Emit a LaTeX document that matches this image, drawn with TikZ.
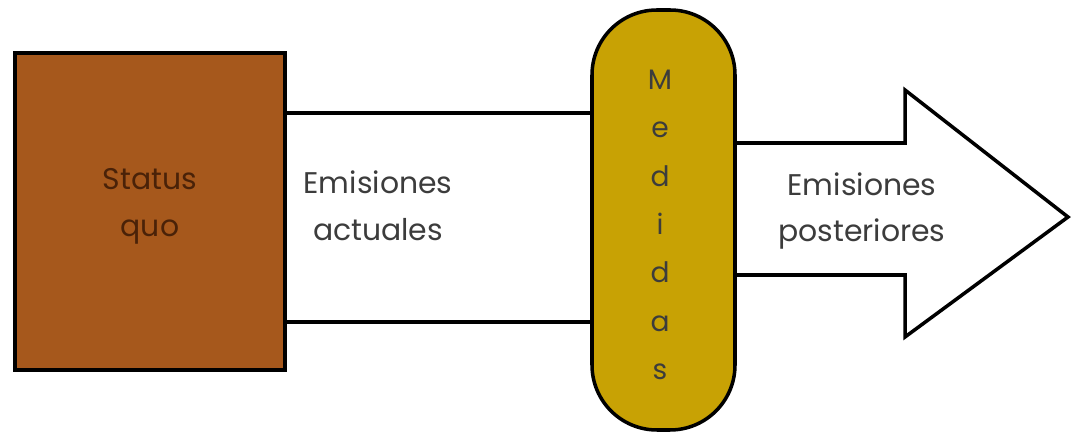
\documentclass[tikz,border=0pt]{standalone}
\usepackage{fontspec}
\setmainfont{Poppins}
\definecolor{quobrown}{HTML}{A6581C}
\definecolor{quotext}{HTML}{4A2208}
\definecolor{medgold}{HTML}{C8A204}
\definecolor{textgray}{HTML}{3C3C3C}

\begin{document}
\begin{tikzpicture}[line width=2pt,
  label/.style={align=center,text=textgray,font=\fontsize{17}{26.7}\selectfont}]
\useasboundingbox (0,0) rectangle (21.44,8.66);
\coordinate (S) at (3.0,4.43);
\coordinate (M) at (13.27,4.26);
\coordinate (U) at (0,6.40);
\coordinate (L) at (0,2.22);
\coordinate (T) at (0,5.80);
\coordinate (B) at (0,3.16);
\coordinate (H) at (18.1,6.86);
\coordinate (K) at (18.1,1.92);
\coordinate (X) at (21.36,4.32);

% arrow shaft starts under the pill
\draw[fill=white] (13.3,5.80) -- (H |- T) -- (H) -- (X) -- (K) -- (K |- B) -- (13.3,3.16);

\node[rectangle,draw,fill=quobrown,minimum width=5.4cm,minimum height=6.34cm] (S1) at (S) {};
\node[label,text=quotext] (Q1) at (3.0,4.54) {Status\\quo};
\node[label] (E1) at (7.56,4.54) {Emisiones\\actuales};
\node[label] (P1) at (17.24,4.44) {Emisiones\\posteriores};

\node[rectangle,draw,rounded corners=1.3cm,fill=medgold,minimum width=2.86cm,minimum height=8.4cm] (M1) at (M) {};
\node[label,font=\fontsize{16}{27.5}\selectfont] (D1) at (13.2,4.16) {M\\e\\d\\i\\d\\a\\s};

\draw (S1.east |- U) -- (M1.west |- U);
\draw (S1.east |- L) -- (M1.west |- L);

\end{tikzpicture}
\end{document}
